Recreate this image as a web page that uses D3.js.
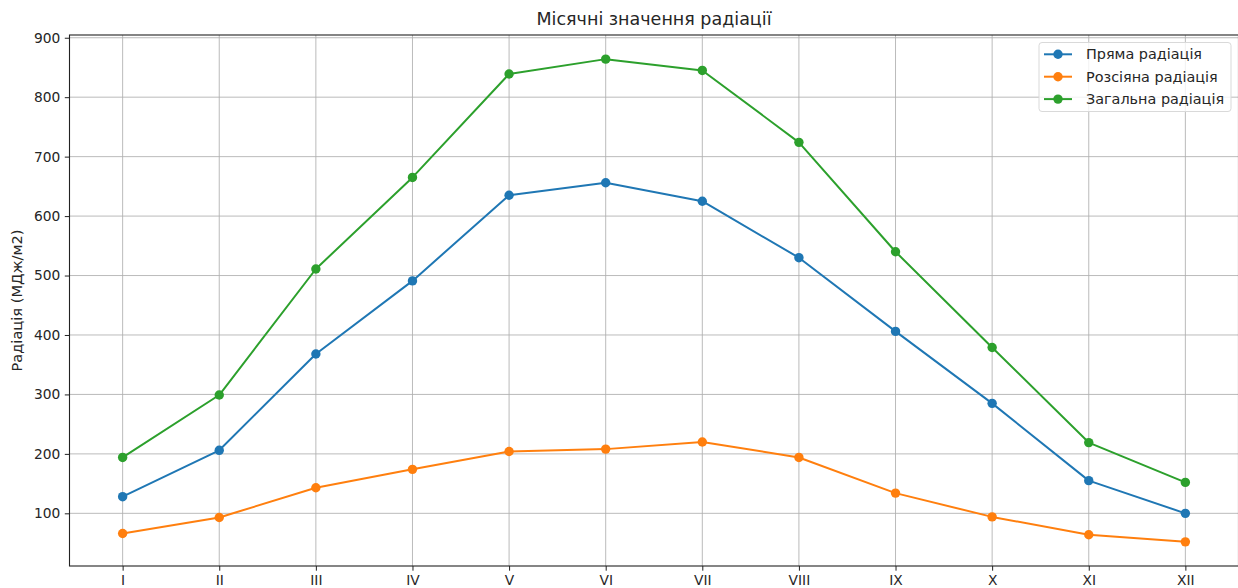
<!DOCTYPE html>
<html>
<head>
<meta charset="utf-8">
<script src="https://cdn.jsdelivr.net/npm/d3@7"></script>
<style>
  html, body { margin: 0; padding: 0; background: #fff; }
  svg { display: block; font-family: "DejaVu Sans", sans-serif; }
</style>
</head>
<body>
<svg id="chart" width="1238" height="588"></svg>
<script>
// Monthly radiation values (MJ/m2)
const months = ["I", "II", "III", "IV", "V", "VI", "VII", "VIII", "IX", "X", "XI", "XII"];
const directRadiation = [128, 206, 368, 491, 635, 656, 625, 530, 406, 285, 155, 100];
const diffuseRadiation = [66, 93, 143, 174, 204, 208, 220, 194, 134, 94, 64, 52];
const totalRadiation = [194, 299, 511, 665, 839, 864, 845, 724, 540, 379, 219, 152];
const yTicks = [100, 200, 300, 400, 500, 600, 700, 800, 900];

const seriesNames = ["Пряма радіація", "Розсіяна радіація", "Загальна радіація"];
const seriesColors = ["#1f77b4", "#ff7f0e", "#2ca02c"];
const series = [directRadiation, diffuseRadiation, totalRadiation];

const svg = d3.select("#chart");
const plot = { left: 69.5, right: 1238.5, top: 35, bottom: 566 };

const yMin = 11.4, yMax = 904.6;
const x = d3.scaleLinear().domain([-0.55, months.length - 1 + 0.55]).range([plot.left, plot.right]);
const y = d3.scaleLinear().domain([yMin, yMax]).range([plot.bottom, plot.top]);

const textColor = "#262626";
const markerR = 4.7;

// Grid
const grid = svg.append("g");
grid.selectAll(".gx").data(months).enter().append("line")
  .attr("x1", (d, i) => x(i)).attr("x2", (d, i) => x(i))
  .attr("y1", plot.top).attr("y2", plot.bottom)
  .attr("stroke", "#b0b0b0").attr("stroke-width", 1).attr("opacity", 0.85);
grid.selectAll(".gy").data(yTicks).enter().append("line")
  .attr("x1", plot.left).attr("x2", plot.right)
  .attr("y1", d => y(d)).attr("y2", d => y(d))
  .attr("stroke", "#b0b0b0").attr("stroke-width", 1).attr("opacity", 0.85);

// Series lines and markers
const line = d3.line().x((d, i) => x(i)).y(d => y(d));
series.forEach((vals, s) => {
  svg.append("path").datum(vals)
    .attr("d", line)
    .attr("fill", "none")
    .attr("stroke", seriesColors[s])
    .attr("stroke-width", 2)
    .attr("stroke-linejoin", "round");
  svg.append("g").selectAll("circle").data(vals).enter().append("circle")
    .attr("cx", (d, i) => x(i)).attr("cy", d => y(d))
    .attr("r", markerR).attr("fill", seriesColors[s]);
});

// Axes
const xAxis = d3.axisBottom(x)
  .tickValues(d3.range(months.length))
  .tickFormat(i => months[i])
  .tickSize(4.7).tickPadding(4.5);
const gx = svg.append("g").attr("transform", `translate(0,${plot.bottom})`).call(xAxis);
const yAxis = d3.axisLeft(y).tickValues(yTicks).tickSize(4.7).tickPadding(4.5);
const gy = svg.append("g").attr("transform", `translate(${plot.left},0)`).call(yAxis);
[gx, gy].forEach(g => {
  g.select(".domain").remove();
  g.selectAll(".tick line").attr("stroke", "#222").attr("stroke-width", 1);
  g.selectAll(".tick text").attr("fill", textColor).style("font-size", "13.8px")
    .style("font-family", "'DejaVu Sans', sans-serif");
});

// Frame
svg.append("rect")
  .attr("x", plot.left).attr("y", plot.top)
  .attr("width", plot.right - plot.left).attr("height", plot.bottom - plot.top)
  .attr("fill", "none").attr("stroke", "#222").attr("stroke-width", 1.1);

// Title and axis label
svg.append("text")
  .attr("x", (plot.left + plot.right) / 2).attr("y", 25)
  .attr("text-anchor", "middle").attr("fill", textColor)
  .style("font-size", "17.5px")
  .text("Місячні значення радіації");

svg.append("text")
  .attr("transform", `translate(22,${(plot.top + plot.bottom) / 2}) rotate(-90)`)
  .attr("text-anchor", "middle").attr("fill", textColor)
  .style("font-size", "14.6px")
  .text("Радіація (МДж/м2)");

// Legend
const legend = svg.append("g");
legend.append("rect")
  .attr("x", 1039).attr("y", 42.5).attr("width", 192).attr("height", 69)
  .attr("rx", 3).attr("fill", "#fff").attr("fill-opacity", 0.8)
  .attr("stroke", "#d9d9d9").attr("stroke-width", 1);
seriesNames.forEach((name, s) => {
  const cy = 54.3 + s * 22.4;
  legend.append("line")
    .attr("x1", 1044).attr("x2", 1072).attr("y1", cy).attr("y2", cy)
    .attr("stroke", seriesColors[s]).attr("stroke-width", 2);
  legend.append("circle").attr("cx", 1058).attr("cy", cy).attr("r", markerR).attr("fill", seriesColors[s]);
  legend.append("text")
    .attr("x", 1086).attr("y", cy).attr("dy", "0.35em")
    .attr("fill", textColor).style("font-size", "14.4px")
    .text(name);
});
</script>
</body>
</html>
